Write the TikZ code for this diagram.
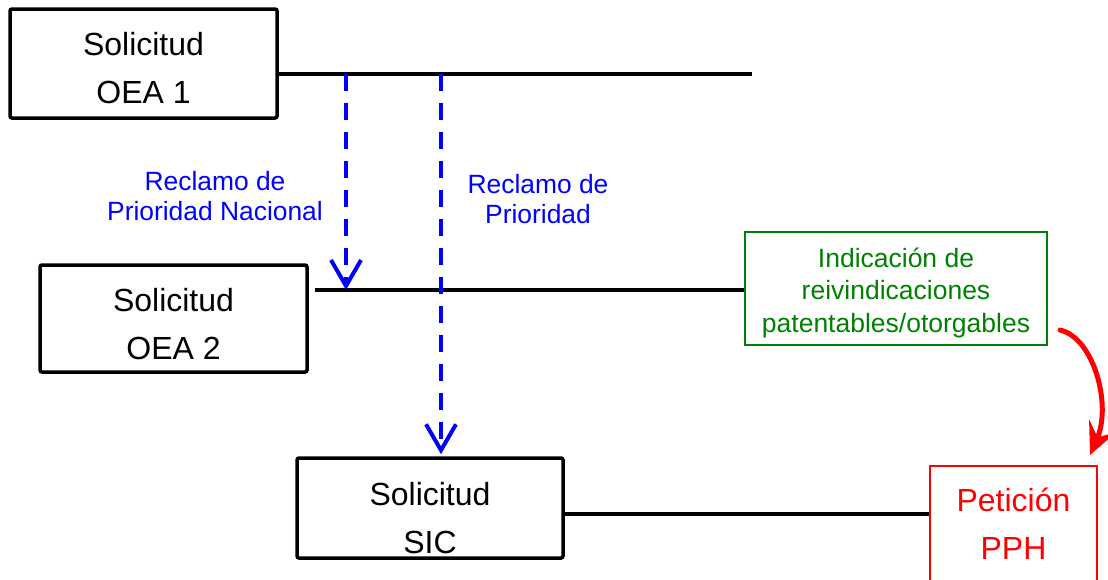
\documentclass[tikz,border=0pt]{standalone}
\usepackage{fontspec}
\setmainfont{Liberation Sans}
\usetikzlibrary{arrows.meta,calc}
\definecolor{dblue}{RGB}{0,0,255}
\definecolor{dgreen}{RGB}{0,128,0}
\definecolor{dred}{RGB}{255,0,0}
\tikzset{
  appbox/.style={draw=black, line width=3.5pt, rounded corners=2pt, align=center,
    font=\fontsize{32}{48}\selectfont, inner sep=0pt},
  greenbox/.style={draw=dgreen, line width=1.5pt, align=center, text=dgreen,
    font=\fontsize{26.5}{32.5}\selectfont, inner sep=0pt},
  redbox/.style={draw=dred, line width=2pt, align=center, text=dred,
    font=\fontsize{32}{48}\selectfont, inner sep=0pt},
  timeline/.style={draw=black, line width=3.5pt},
  prio/.style={draw=dblue, line width=4.5pt, dash pattern=on 17pt off 12pt,
    -{Straight Barb[length=26pt,width=30pt,line width=4pt]}},
  bluelbl/.style={text=dblue, align=center, font=\fontsize{26.4}{30}\selectfont, inner sep=0pt},
  redarrow/.style={draw=dred, line width=5pt, line cap=round,
    -{Stealth[length=32pt,width=30pt,inset=13pt]}}
}
\begin{document}
\begin{tikzpicture}[x=1pt,y=-1pt]
\useasboundingbox (0,0) rectangle (1108,579);
% boxes
\node[appbox, minimum width=267pt, minimum height=109pt] (oea1) at (143.5,63.5) {\rule{0pt}{32.3pt}Solicitud\\OEA 1};
\node[appbox, minimum width=267pt, minimum height=107pt] (oea2) at (173.5,318.5) {\rule{0pt}{34.3pt}Solicitud\\OEA 2};
\node[appbox, minimum width=266pt, minimum height=100pt] (sic) at (430,508) {\rule{0pt}{42.3pt}Solicitud\\SIC};
\node[greenbox, minimum width=302pt, minimum height=113pt] (green) at (896,288.5)
  {\rule{0pt}{27.6pt}Indicación de\\reivindicaciones\\patentables/otorgables};
\node[redbox, minimum width=167pt, minimum height=116pt] (pph) at (1013.5,524) {Petición\\PPH};
% timelines
\coordinate (e1) at (752,74);
\draw[timeline] (oea1.east |- e1) -- (e1);
\coordinate (s2) at (315,290);
\draw[timeline] (s2) -- (s2 -| green.west);
\coordinate (s3) at (563,514);
\draw[timeline] (sic.east |- s3) -- (s3 -| pph.west);
% priority claims
\coordinate (p1) at (346,74);
\coordinate (p2) at (441,74);
\draw[prio] (p1) -- (p1 |- s2);
\draw[prio] (p2) -- ($(p2 |- sic.north)+(0,-2)$);
\node[bluelbl] (l1) at (215,196) {Reclamo de\\Prioridad Nacional};
\node[bluelbl] (l2) at (538,199) {Reclamo de\\Prioridad};
% red arrow
\coordinate (ra) at (1060,330);
\draw[redarrow] (ra) .. controls (1094,338) and (1112,405) .. ($(pph.north east)+(-8,-10)$);
\end{tikzpicture}
\end{document}
